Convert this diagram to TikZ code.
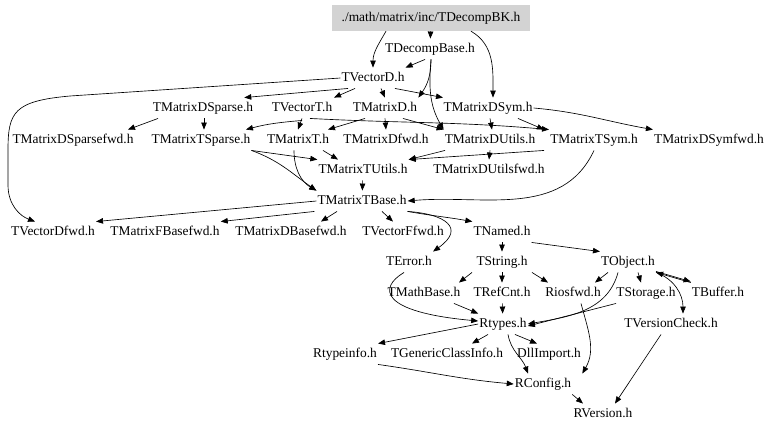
\documentclass[tikz,border=0pt]{standalone}
\usepackage{fontspec}
\setmainfont{Liberation Serif}
\usetikzlibrary{arrows.meta}
\definecolor{rootgray}{RGB}{211,211,211}

\begin{document}
\begin{tikzpicture}[x=1pt,y=-1pt,
  hfile/.style={inner xsep=1pt,inner ysep=4pt,text height=9.5pt,text depth=3pt,font=\fontsize{13.4}{16}\selectfont},
  root/.style={hfile,fill=rootgray,minimum width=198pt,minimum height=26pt},
  dep/.style={-{Triangle[length=7pt,width=5.5pt]},line width=0.65pt}]
\useasboundingbox (0,0) rectangle (779,432);

% Header files
\node[root] (bk) at (431,18) {./math/matrix/inc/TDecompBK.h};
\node[hfile] (decompbase) at (430,49) {TDecompBase.h};
\node[hfile] (vectord) at (373,78) {TVectorD.h};

\node[hfile] (dsparse) at (203,108) {TMatrixDSparse.h};
\node[hfile] (vectort) at (302,108) {TVectorT.h};
\node[hfile] (matrixd) at (385,108) {TMatrixD.h};
\node[hfile] (dsym) at (488,108) {TMatrixDSym.h};

\node[hfile] (dsparsefwd) at (73,140) {TMatrixDSparsefwd.h};
\node[hfile] (tsparse) at (201,140) {TMatrixTSparse.h};
\node[hfile] (matrixt) at (298,140) {TMatrixT.h};
\node[hfile] (dfwd) at (386,140) {TMatrixDfwd.h};
\node[hfile] (dutils) at (490,140) {TMatrixDUtils.h};
\node[hfile] (tsym) at (594,140) {TMatrixTSym.h};
\node[hfile] (dsymfwd) at (709,140) {TMatrixDSymfwd.h};

\node[hfile] (tutils) at (363,170) {TMatrixTUtils.h};
\node[hfile] (dutilsfwd) at (489,170) {TMatrixDUtilsfwd.h};
\node[hfile] (tbase) at (362,201) {TMatrixTBase.h};

\node[hfile] (vectordfwd) at (53,232) {TVectorDfwd.h};
\node[hfile] (fbasefwd) at (165,232) {TMatrixFBasefwd.h};
\node[hfile] (dbasefwd) at (291,232) {TMatrixDBasefwd.h};
\node[hfile] (vectorffwd) at (403,232) {TVectorFfwd.h};
\node[hfile] (tnamed) at (502,232) {TNamed.h};

\node[hfile] (terror) at (409,262) {TError.h};
\node[hfile] (tstring) at (502,262) {TString.h};
\node[hfile] (tobject) at (628,262) {TObject.h};

\node[hfile] (tmathbase) at (424,293) {TMathBase.h};
\node[hfile] (trefcnt) at (502,293) {TRefCnt.h};
\node[hfile] (riosfwd) at (573,293) {Riosfwd.h};
\node[hfile] (tstorage) at (646,293) {TStorage.h};
\node[hfile] (tbuffer) at (718,293) {TBuffer.h};

\node[hfile] (rtypes) at (503,324) {Rtypes.h};
\node[hfile] (tversion) at (671,324) {TVersionCheck.h};
\node[hfile] (rtypeinfo) at (345,354) {Rtypeinfo.h};
\node[hfile] (tgci) at (447,354) {TGenericClassInfo.h};
\node[hfile] (dllimport) at (549,354) {DllImport.h};
\node[hfile] (rconfig) at (543,384) {RConfig.h};
\node[hfile] (rversion) at (603,414) {RVersion.h};

% Includes, top part
\draw[dep] (bk) -- (decompbase);
\draw[dep] ([xshift=-45pt]bk.south) to[out=-120,in=90] (vectord.north);
\draw[dep] ([xshift=40pt]bk.south) to[out=-30,in=90] ([xshift=5pt]dsym.north);
\draw[dep] ([xshift=-5pt]decompbase.south) -- (vectord.north east);
\draw[dep] ([xshift=1pt]decompbase.south) to[out=-90,in=55] (matrixd.north east);
\draw[dep] ([xshift=1pt]decompbase.south) to[out=-95,in=120] (dutils.north west);
\draw[dep] (vectord.west) -- (70,96) .. controls (14,101) and (8,112) .. (8,150)
  -- (8,185) .. controls (8,205) and (20,216) .. ([xshift=-18pt]vectordfwd.north);
\draw[dep] ([xshift=-25pt]vectord.south) -- ([xshift=-10pt]dsparse.north east);
\draw[dep] ([xshift=-18pt]vectord.south) -- ([xshift=32pt]vectort.north);
\draw[dep] ([xshift=8pt]vectord.south) -- (matrixd.north);
\draw[dep] ([xshift=22pt]vectord.south) -- ([xshift=-45pt]dsym.north);

\draw[dep] ([xshift=-45pt]dsparse.south) -- ([xshift=55pt]dsparsefwd.north);
\draw[dep] ([xshift=1pt]dsparse.south) -- ([xshift=3pt]tsparse.north);
\draw[dep] ([yshift=-2pt]vectort.south) to[out=185,in=15] ([xshift=45pt]tsparse.north);
\draw[dep] (vectort.south) -- (matrixt.north);
\draw[dep] ([xshift=8pt]vectort.south) to[out=-3,in=175] ([xshift=-45pt]tsym.north);
\draw[dep] ([xshift=-20pt]matrixd.south) -- ([xshift=30pt]matrixt.north);
\draw[dep] (matrixd.south) -- (dfwd.north);
\draw[dep] ([xshift=18pt]matrixd.south) -- (dutils.north west);
\draw[dep] ([xshift=2pt]dsym.south) -- ([xshift=2pt]dutils.north);
\draw[dep] ([xshift=30pt]dsym.south) -- ([xshift=-50pt]tsym.north);
\draw[dep] (dsym.east) to[out=-5,in=170] (dsymfwd.north west);

% Includes, matrix base
\draw[dep] (tsparse.south east) -- (tutils.north west);
\draw[dep] (tsparse.south east) to[out=-20,in=145] (tbase.north west);
\draw[dep] ([xshift=-4pt]matrixt.south) to[out=-90,in=150] (tbase.north west);
\draw[dep] ([xshift=25pt]matrixt.south) -- ([xshift=-25pt]tutils.north);
\draw[dep] ([xshift=-45pt]dutils.south) -- (tutils.north east);
\draw[dep] ([xshift=-50pt]tsym.south) -- (tutils.north east);
\draw[dep] (dutils.south) -- (dutilsfwd.north);
\draw[dep] (tutils) -- (tbase);
\draw[dep] (tsym.south) to[out=-115,in=5] (tbase.east);

\draw[dep] (tbase.west) -- (vectordfwd.north east);
\draw[dep] ([xshift=-2pt]tbase.south west) -- (fbasefwd.north east);
\draw[dep] ([xshift=-25pt]tbase.south) -- ([xshift=30pt]dbasefwd.north);
\draw[dep] ([xshift=20pt]tbase.south) -- ([xshift=-10pt]vectorffwd.north);
\draw[dep] (tbase.south east) to[out=-10,in=170] (tnamed.north west);
\draw[dep] (tbase.south east) .. controls (445,214) and (466,228) .. (terror.north east);

% Includes, core
\draw[dep] (tnamed) -- (tstring);
\draw[dep] (tnamed.south east) -- (tobject.north west);
\draw[dep] ([xshift=-30pt]tstring.south) -- ([xshift=35pt]tmathbase.north);
\draw[dep] (tstring) -- (trefcnt);
\draw[dep] ([xshift=30pt]tstring.south) -- ([xshift=-25pt]riosfwd.north);
\draw[dep] ([xshift=-20pt]tobject.south) -- ([xshift=22pt]riosfwd.north);
\draw[dep] ([xshift=10pt]tobject.south) -- ([xshift=-5pt]tstorage.north);
\draw[dep] ([yshift=1pt]tobject.south east) -- ([yshift=1pt]tbuffer.north west);
\draw[dep] (tbuffer.north west) -- (tobject.south east);
\draw[dep] (tobject.south east) to[out=-20,in=90] ([xshift=12pt]tversion.north);
\draw[dep] ([xshift=-10pt]tobject.south) to[out=-105,in=10] (rtypes.east);
\draw[dep] ([xshift=-30pt]tstorage.south) -- ([yshift=-2pt]rtypes.east);
\draw[dep] ([xshift=-5pt]terror.south) .. controls (378,288) and (380,312) .. ([yshift=3pt]rtypes.west);
\draw[dep] ([xshift=30pt]tmathbase.south) -- (rtypes.north west);
\draw[dep] (trefcnt) -- (rtypes);
\draw[dep] ([xshift=8pt]riosfwd.south) to[out=-75,in=60] ([xshift=10pt]rconfig.north east);

\draw[dep] (rtypes.west) -- (rtypeinfo.north east);
\draw[dep] ([xshift=-15pt]rtypes.south) -- ([xshift=25pt]tgci.north);
\draw[dep] ([xshift=12pt]rtypes.south) -- ([xshift=-12pt]dllimport.north);
\draw[dep] ([xshift=5pt]rtypes.south) to[out=-80,in=110] ([xshift=-15pt]rconfig.north);
\draw[dep] (rtypeinfo.south east) to[out=-8,in=175] (rconfig.west);
\draw[dep] (rconfig.south east) -- ([xshift=-20pt]rversion.north);
\draw[dep] ([xshift=-10pt]tversion.south) -- ([xshift=12pt]rversion.north);
\end{tikzpicture}
\end{document}
